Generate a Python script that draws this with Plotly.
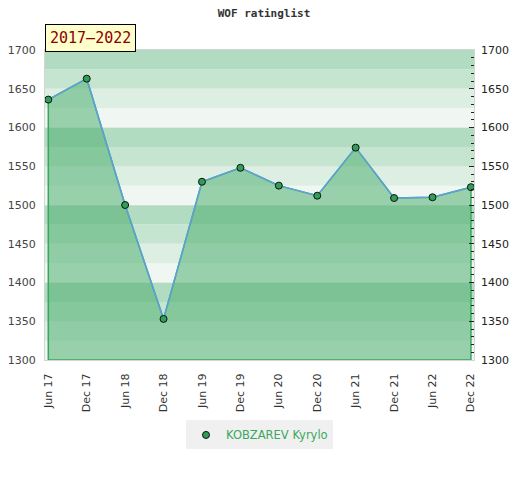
import plotly.graph_objects as go

periods = ["Jun 17", "Dec 17", "Jun 18", "Dec 18", "Jun 19", "Dec 19",
           "Jun 20", "Dec 20", "Jun 21", "Dec 21", "Jun 22", "Dec 22"]
ratings = [1636, 1663, 1500, 1353, 1530, 1548, 1525, 1512, 1574, 1509, 1510, 1523]
player = "KOBZAREV Kyrylo"
title = "WOF ratinglist"
period_label = "2017\u20132022"
y_min, y_max, y_step = 1300, 1700, 50

band_colors = ["#b2dcc2", "#c6e5d1", "#ddeee3", "#f0f7f2"]

fig = go.Figure()

# background stripes (25-unit bands, darkest at the top of each 100 block)
shapes = []
lo = y_min
while lo < y_max:
    hi = lo + 25
    idx = 3 - int(((lo - y_min) % 100) // 25)
    shapes.append(dict(type="rect", xref="paper", yref="y", x0=0, x1=1, y0=lo, y1=hi,
                       fillcolor=band_colors[idx], line=dict(width=0), layer="below"))
    lo = hi

# filled area polygon with green edges
fig.add_trace(go.Scatter(
    x=periods + [periods[-1], periods[0], periods[0]],
    y=ratings + [y_min, y_min, ratings[0]],
    mode="lines", fill="toself",
    fillcolor="rgba(72,172,108,0.52)",
    line=dict(color="#35a85a", width=1.5),
    showlegend=False, hoverinfo="skip"))

fig.add_trace(go.Scatter(
    x=periods, y=ratings, mode="lines",
    line=dict(color="#5fa0dc", width=1.5),
    showlegend=False, hoverinfo="skip"))

fig.add_trace(go.Scatter(
    x=periods, y=ratings, mode="markers", name=player,
    marker=dict(color="#2f9f58", size=7, line=dict(color="#111111", width=1)),
    showlegend=True))

# invisible trace for right axis
fig.add_trace(go.Scatter(x=periods, y=ratings, yaxis="y2", mode="markers",
                         marker=dict(opacity=0), showlegend=False, hoverinfo="skip"))

fig.update_layout(
    width=512, height=472,
    margin=dict(l=37, r=46, t=42, b=120, autoexpand=False),
    paper_bgcolor="white", plot_bgcolor="white",
    shapes=shapes,
    title=dict(text="<b>" + title + "</b>", x=0.5, xanchor="center", y=0.997, yanchor="top",
               automargin=False,
               font=dict(family="DejaVu Sans Mono", size=11, color="#333333")),
    xaxis=dict(type="category", range=[-0.086, 11.08], tickangle=-90, automargin=False,
               showgrid=False, zeroline=False,
               showline=True, mirror=True, linecolor="#d4d4d4", linewidth=1,
               ticks="outside", ticklen=8, tickcolor="rgba(0,0,0,0)",
               tickfont=dict(family="DejaVu Sans", size=11, color="#333333")),
    yaxis=dict(range=[y_min, y_max], dtick=y_step, showgrid=True, automargin=False,
               gridcolor="rgba(225,225,225,0.55)", gridwidth=1, zeroline=False,
               showline=True, mirror=True, linecolor="#d4d4d4", linewidth=1,
               ticks="outside", ticklen=6, tickcolor="rgba(0,0,0,0)",
               tickfont=dict(family="DejaVu Sans", size=11, color="#444444")),
    yaxis2=dict(range=[y_min, y_max], dtick=y_step, overlaying="y", side="right",
                automargin=False,
                showgrid=False, zeroline=False, showline=False,
                ticks="inside", ticklen=5, tickcolor="#222222", tickwidth=1,
                minor=dict(dtick=10, ticks="inside", ticklen=3, tickcolor="#222222"),
                ticklabelstandoff=6,
                tickfont=dict(family="DejaVu Sans", size=11, color="#222222")),
    legend=dict(orientation="h", x=0.5, xanchor="center", y=-0.195, yanchor="top",
                bgcolor="#f0f0f0", font=dict(family="DejaVu Sans", size=11.5, color="#3aa85e")),
    annotations=[dict(text=period_label, xref="paper", yref="paper", x=0, y=1,
                      xanchor="left", yanchor="bottom", showarrow=False, yshift=-2,
                      bgcolor="#ffffcc", bordercolor="#000000", borderwidth=1, borderpad=4,
                      font=dict(family="DejaVu Sans Mono", size=15, color="#8b0000"))],
)

fig.write_html("out.html")
